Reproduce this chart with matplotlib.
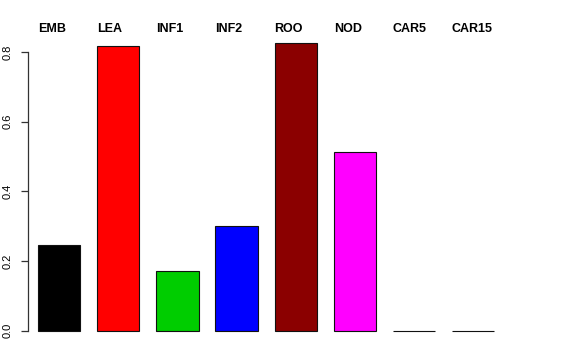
import matplotlib
matplotlib.use("Agg")
import matplotlib.pyplot as plt

categories = ["EMB", "LEA", "INF1", "INF2", "ROO", "NOD", "CAR5", "CAR15"]
values = [0.247, 0.817, 0.170, 0.299, 0.826, 0.512, 0.0, 0.0]
colors = ["#000000", "#FF0000", "#00CD00", "#0000FF", "#8B0000", "#FF00FF", "#FFFF00", "#00FFFF"]
yticks = [0.0, 0.2, 0.4, 0.6, 0.8]

plt.rcParams["font.family"] = ["Liberation Sans", "DejaVu Sans"]

W, H = 576, 360
fig = plt.figure(figsize=(W/100, H/100), dpi=100)
# pixel layout
x_unit = 42.24         # px per bar-width unit
left_px = 28.0
x0 = 0.4 - 10.0/x_unit
lefts = [0.4 + 1.4*i for i in range(len(values))]
x1 = lefts[-1] + 1.0 + 10.0/x_unit
width_px = (x1 - x0)*x_unit

y_unit = 348.1
bottom_px, top_px = 341.5, 31.5
y_zero_px = 330.5
y0 = -(bottom_px - y_zero_px)/y_unit
y1 = (y_zero_px - top_px)/y_unit

ax = fig.add_axes([left_px/W, (H-bottom_px)/H, width_px/W, (bottom_px-top_px)/H])
ax.bar(lefts, values, width=1.0, align="edge", color=colors, edgecolor="#111111", linewidth=0.8)
ax.set_xlim(x0, x1)
ax.set_ylim(y0, y1)

for s in ["top", "right", "bottom"]:
    ax.spines[s].set_visible(False)
ax.spines["left"].set_bounds(0, 0.8)
ax.spines["left"].set_color("#333333")
ax.spines["left"].set_linewidth(0.9)
ax.set_xticks([])
ax.set_yticks(yticks)
ax.set_yticklabels([f"{t:.1f}" for t in yticks], rotation=90, va="center", fontsize=8)
ax.tick_params(axis="y", length=5, width=0.9, pad=6, colors="#333333", labelcolor="black")

label_baseline = (H - 32.0)/H
for x, c in zip(lefts, categories):
    xf = (left_px + (x - x0)*x_unit)/W
    fig.text(xf, label_baseline, c, ha="left", va="baseline",
             fontsize=9, fontweight="bold")

fig.savefig("out.png", dpi=100)
